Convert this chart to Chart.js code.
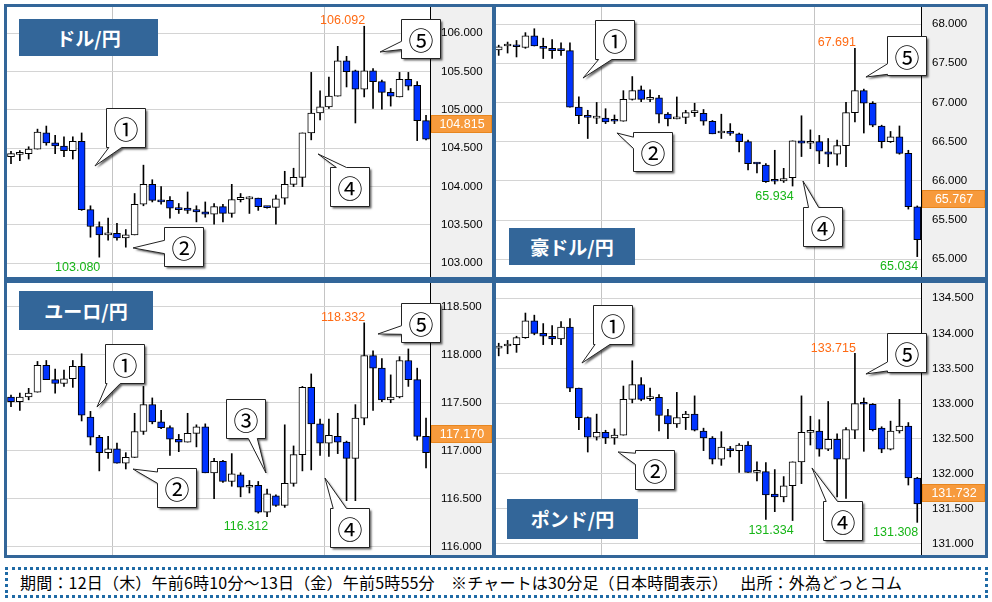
<!DOCTYPE html>
<html lang="ja">
<head>
<meta charset="UTF-8">
<title>為替チャート 30分足</title>
<script src="https://cdn.jsdelivr.net/npm/chart.js"></script>
<style>
  body { margin: 0; width: 992px; height: 602px; background: #fff; font-family: 'Noto Sans CJK JP', sans-serif; position: relative; overflow: hidden; }
  .panel { position: absolute; border: 3px solid #336699; box-sizing: border-box; background: #fff; overflow: hidden; }
  .panel canvas { position: absolute; left: 0; top: 0; }
  .title { position: absolute; background: #336699; color: #fff; font-size: 19px; font-weight: bold; text-align: center; z-index: 2; }
  .footer { position: absolute; left: 5px; top: 567px; width: 983px; height: 31px; box-sizing: border-box; border: 3px dotted #1f6aa5; font-size: 16px; line-height: 25px; padding-left: 12px; color: #000; white-space: nowrap; letter-spacing: 0.2px; }
</style>
</head>
<body>

<div class="panel" style="left:4px;top:4px;width:491px;height:276px">
  <canvas id="cUsd" width="485" height="270"></canvas>
  <div class="title" style="left:12px;top:12px;width:139px;height:37px;line-height:37px">ドル/円</div>
</div>
<div class="panel" style="left:493px;top:4px;width:495px;height:276px">
  <canvas id="cAud" width="489" height="270"></canvas>
  <div class="title" style="left:13px;top:221px;width:126px;height:37px;line-height:37px">豪ドル/円</div>
</div>
<div class="panel" style="left:4px;top:280px;width:491px;height:278px">
  <canvas id="cEur" width="485" height="272"></canvas>
  <div class="title" style="left:12px;top:8px;width:134px;height:39px;line-height:39px">ユーロ/円</div>
</div>
<div class="panel" style="left:493px;top:280px;width:495px;height:278px">
  <canvas id="cGbp" width="489" height="272"></canvas>
  <div class="title" style="left:11px;top:216px;width:131px;height:40px;line-height:40px">ポンド/円</div>
</div>

<div class="footer">期間：12日（木）午前6時10分～13日（金）午前5時55分　※チャートは30分足（日本時間表示）　 出所：外為どっとコム</div>

<script>
  // ドル/円 (30分足 48本)
  const usdOpen  = [104.39,104.42,104.43,104.49,104.70,104.57,104.53,104.47,104.59,103.70,103.48,103.37,103.39,103.33,103.37,103.77,104.03,103.82,103.82,103.72,103.72,103.70,103.67,103.64,103.74,103.65,103.83,103.84,103.85,103.73,103.73,103.85,104.03,104.12,104.70,104.96,105.04,105.18,105.64,105.51,105.27,105.51,105.37,105.23,105.17,105.40,105.32,104.86];
  const usdHigh  = [104.46,104.47,104.52,104.75,104.79,104.67,104.65,104.65,104.70,103.75,103.54,103.59,103.52,103.44,103.91,104.28,104.09,104.00,103.87,103.78,103.93,103.75,103.80,103.78,103.77,104.03,103.91,103.87,103.85,103.74,103.89,104.20,104.24,104.70,105.49,105.25,105.43,105.83,105.70,105.52,106.092,105.54,105.39,105.28,105.49,105.49,105.37,104.93];
  const usdLow   = [104.30,104.34,104.36,104.49,104.54,104.43,104.39,104.36,103.69,103.34,103.080,103.30,103.30,103.21,103.37,103.75,103.80,103.77,103.59,103.65,103.65,103.54,103.60,103.51,103.54,103.60,103.80,103.65,103.69,103.72,103.51,103.77,104.00,104.00,104.61,104.87,105.02,105.18,105.30,104.83,105.17,105.02,105.01,105.05,105.17,105.26,104.60,104.61];
  const usdClose = [104.43,104.425,104.49,104.71,104.57,104.53,104.47,104.59,103.70,103.48,103.37,103.39,103.33,103.37,103.77,104.03,103.82,103.80,103.72,103.70,103.69,103.67,103.64,103.74,103.65,103.83,103.86,103.845,103.74,103.725,103.84,104.03,104.12,104.70,104.96,105.04,105.18,105.64,105.50,105.27,105.51,105.37,105.23,105.18,105.40,105.31,104.86,104.62];
  const usdTicks = [103.0,103.5,104.0,104.5,105.0,105.5,106.0];

  // 豪ドル/円
  const audOpen  = [67.67,67.72,67.72,67.70,67.85,67.71,67.69,67.665,67.66,66.94,66.82,66.80,66.80,66.765,66.76,67.04,67.16,67.04,67.06,66.85,66.79,66.81,66.87,66.86,66.76,66.61,66.61,66.60,66.50,66.22,66.20,66.00,66.00,66.04,66.51,66.48,66.50,66.37,66.34,66.45,66.87,67.15,66.99,66.70,66.50,66.56,66.35,65.67];
  const audHigh  = [67.73,67.77,67.79,67.89,67.94,67.82,67.80,67.76,67.76,67.07,66.90,67.00,66.92,66.84,67.15,67.33,67.21,67.16,67.09,66.87,67.07,66.90,66.99,66.91,66.77,66.85,66.73,66.61,66.52,66.23,66.22,66.39,66.16,66.51,66.83,66.65,66.58,66.54,66.52,67.00,67.691,67.17,67.01,66.71,66.63,66.70,66.39,65.68];
  const audLow   = [67.60,67.63,67.58,67.69,67.72,67.56,67.56,67.60,66.94,66.73,66.54,66.73,66.73,66.73,66.76,67.03,67.01,67.01,66.74,66.70,66.79,66.73,66.82,66.71,66.60,66.54,66.58,66.37,66.14,66.10,65.98,65.96,65.98,65.934,66.31,66.41,66.22,66.18,66.20,66.18,66.75,66.61,66.69,66.42,66.49,66.34,65.64,65.034];
  const audClose = [67.71,67.73,67.71,67.85,67.72,67.69,67.66,67.66,66.94,66.83,66.81,66.805,66.75,66.76,67.04,67.15,67.04,67.06,66.85,66.79,66.81,66.87,66.875,66.76,66.60,66.615,66.605,66.50,66.22,66.215,65.99,65.995,66.03,66.51,66.48,66.50,66.38,66.34,66.45,66.87,67.15,66.99,66.71,66.50,66.56,66.35,65.67,65.25];
  const audTicks = [65.0,65.5,66.0,66.5,67.0,67.5,68.0];

  // ユーロ/円
  const eurOpen  = [117.56,117.51,117.56,117.61,117.89,117.74,117.70,117.75,117.88,117.35,117.14,116.98,117.02,116.87,116.93,117.20,117.48,117.30,117.24,117.12,117.09,117.18,117.25,116.77,116.89,116.68,116.75,116.62,116.64,116.36,116.53,116.43,116.66,116.96,117.66,117.28,117.08,117.15,117.09,116.92,117.34,117.99,117.86,117.53,117.56,117.94,117.74,117.15];
  const eurHigh  = [117.58,117.60,117.65,117.93,117.94,117.85,117.84,117.94,118.01,117.41,117.16,117.15,117.08,116.98,117.39,117.67,117.55,117.42,117.26,117.17,117.39,117.27,117.28,116.92,116.90,116.97,116.77,116.69,116.68,116.60,116.54,117.27,117.05,117.67,117.80,117.33,117.33,117.39,117.10,117.48,118.332,118.04,117.96,117.79,117.98,118.06,117.86,117.34];
  const eurLow   = [117.46,117.42,117.53,117.61,117.74,117.60,117.67,117.66,117.31,117.06,116.79,116.92,116.87,116.81,116.93,117.17,117.28,117.23,116.95,116.99,117.09,117.04,116.77,116.50,116.67,116.63,116.52,116.56,116.35,116.312,116.42,116.41,116.63,116.79,116.80,116.95,116.94,116.97,116.48,116.48,117.27,117.42,117.51,117.50,117.55,117.67,117.11,116.82];
  const eurClose = [117.51,117.56,117.60,117.89,117.74,117.70,117.75,117.88,117.37,117.14,116.98,117.02,116.87,116.93,117.20,117.48,117.30,117.24,117.12,117.09,117.18,117.25,116.77,116.89,116.68,116.76,116.62,116.64,116.36,116.55,116.43,116.66,116.96,117.66,117.28,117.08,117.16,117.09,116.92,117.34,117.99,117.86,117.53,117.56,117.94,117.74,117.15,116.98];
  const eurTicks = [116.0,116.5,117.0,117.5,118.0,118.5];

  // ポンド/円
  const gbpOpen  = [133.79,133.82,133.84,133.94,134.18,134.00,133.96,133.92,134.09,133.22,132.80,132.52,132.59,132.51,132.55,133.06,133.27,133.07,133.09,132.83,132.71,132.80,132.85,132.61,132.51,132.21,132.36,132.33,132.41,132.02,132.03,131.71,131.67,131.83,132.17,132.59,132.61,132.35,132.49,132.21,132.62,133.00,132.99,132.65,132.35,132.61,132.68,131.94];
  const gbpHigh  = [133.86,133.90,133.96,134.29,134.26,134.14,134.11,134.17,134.21,133.22,132.81,132.85,132.62,132.64,133.25,133.61,133.37,133.22,133.13,132.92,133.16,132.89,133.11,132.65,132.53,132.60,132.39,132.43,132.46,132.17,132.16,132.06,131.96,132.17,133.11,132.82,132.77,133.03,132.57,132.66,133.715,133.08,133.00,132.67,132.75,133.06,132.73,131.95];
  const gbpLow   = [133.68,133.71,133.73,133.93,133.98,133.84,133.84,133.84,133.17,132.63,132.31,132.48,132.43,132.42,132.55,133.01,133.04,133.04,132.61,132.50,132.66,132.63,132.61,132.33,132.14,132.12,132.24,132.02,132.02,131.90,131.35,131.46,131.60,131.334,131.86,132.41,132.25,132.33,131.67,131.65,132.50,132.32,132.61,132.30,132.34,132.58,131.84,131.308];
  const gbpClose = [133.82,133.84,133.94,134.18,134.00,133.96,133.92,134.09,133.22,132.80,132.52,132.59,132.51,132.55,133.06,133.27,133.06,133.09,132.83,132.71,132.80,132.85,132.62,132.51,132.21,132.38,132.33,132.41,132.02,132.05,131.70,131.67,131.83,132.17,132.59,132.61,132.35,132.49,132.21,132.63,133.00,132.99,132.63,132.35,132.61,132.68,131.94,131.57];
  const gbpTicks = [131.0,131.5,132.0,132.5,133.0,133.5,134.0,134.5];

  // 現在値 (オレンジのラベル)
  const lastRates = [104.815, 65.767, 117.170, 131.732];
  // 12:00 と 24:00 の縦線（足の番号）
  const timeLines = [11.5, 35.5];

  const axisFont = "'Liberation Sans Narrow', 'Liberation Sans', sans-serif";
  const upColor = '#ffffff';
  const downColor = '#0033ff';

  function drawCallout(ctx, xs, ys, co) {
    const w = 39, hh = 39;
    const cx = xs.getPixelForValue(co.x), cy = ys.getPixelForValue(co.y);
    const tx = xs.getPixelForValue(co.tx), ty = ys.getPixelForValue(co.ty);
    const x0 = Math.round(cx - w / 2) + 0.5, y0 = Math.round(cy - hh / 2) + 0.5;
    const x1 = x0 + w, y1 = y0 + hh;
    const [f1, f2] = co.f;
    const pts = [[x0, y0]];
    if (co.side === 'top') pts.push([x0 + f1 * w, y0], [tx, ty], [x0 + f2 * w, y0]);
    pts.push([x1, y0], [x1, y1]);
    if (co.side === 'bottom') pts.push([x0 + f2 * w, y1], [tx, ty], [x0 + f1 * w, y1]);
    pts.push([x0, y1]);
    if (co.side === 'left') pts.push([x0, y0 + f2 * hh], [tx, ty], [x0, y0 + f1 * hh]);
    ctx.beginPath();
    pts.forEach((p, i) => i ? ctx.lineTo(p[0], p[1]) : ctx.moveTo(p[0], p[1]));
    ctx.closePath();
    ctx.save();
    ctx.shadowColor = 'rgba(0,0,0,0.6)';
    ctx.shadowOffsetX = 2;
    ctx.shadowOffsetY = 2;
    ctx.shadowBlur = 2;
    ctx.fillStyle = '#fff';
    ctx.fill();
    ctx.restore();
    ctx.strokeStyle = '#222';
    ctx.lineWidth = 1;
    ctx.stroke();
    ctx.fillStyle = '#000';
    ctx.font = "25px 'Noto Sans CJK JP', sans-serif";
    ctx.textAlign = 'center';
    ctx.textBaseline = 'middle';
    ctx.fillText(co.n, x0 + w / 2, y0 + hh / 2 + 1);
  }

  function makeDeco(high, low, last, marks, callouts) {
    return {
      id: 'deco',
      beforeDraw(chart) {
        const { ctx, chartArea, width, height } = chart;
        ctx.save();
        ctx.fillStyle = '#fff';
        ctx.fillRect(0, 0, width, height);
        ctx.fillStyle = '#f0f0f0';
        ctx.fillRect(chartArea.right, 0, width - chartArea.right, height);
        ctx.restore();
      },
      afterDraw(chart) {
        const { ctx, chartArea, width } = chart;
        const xs = chart.scales.x, ys = chart.scales.y;
        ctx.save();
        // 高値・安値
        ctx.font = "12.5px 'Liberation Sans', sans-serif";
        ctx.textAlign = 'right';
        marks.forEach(m => {
          const x = xs.getPixelForValue(m.i) + 1;
          if (m.type === 'high') {
            ctx.fillStyle = '#ff6a13';
            ctx.textBaseline = 'bottom';
            ctx.fillText(high[m.i].toFixed(3), x, ys.getPixelForValue(high[m.i]) + 1);
          } else {
            ctx.fillStyle = '#17b517';
            ctx.textBaseline = 'top';
            ctx.fillText(low[m.i].toFixed(3), x, ys.getPixelForValue(low[m.i]) + 4);
          }
        });
        // 現在値ラベル
        const py = Math.round(ys.getPixelForValue(last));
        ctx.fillStyle = '#f79a3c';
        ctx.fillRect(chartArea.right + 1, py - 9, width - chartArea.right - 1, 18);
        ctx.strokeStyle = '#e7861f';
        ctx.strokeRect(chartArea.right + 1.5, py - 8.5, width - chartArea.right - 2, 17);
        ctx.fillStyle = '#fff';
        ctx.font = '12.5px ' + axisFont;
        ctx.textAlign = 'center';
        ctx.textBaseline = 'middle';
        ctx.fillText(last.toFixed(3), (chartArea.right + width) / 2 + 1, py + 1);
        // 吹き出し
        callouts.forEach(co => drawCallout(ctx, xs, ys, co));
        ctx.restore();
      }
    };
  }

  function makeChart(id, open, high, low, close, ticks, yMin, yMax, xMin, xMax, axisW, last, marks, callouts) {
    const body = open.map((o, i) => ({ x: i, y: [o, close[i]] }));
    const wick = low.map((l, i) => ({ x: i, y: [l, high[i]] }));
    return new Chart(document.getElementById(id), {
      type: 'bar',
      data: {
        datasets: [
          {
            label: 'body',
            data: body,
            backgroundColor: open.map((o, i) => close[i] >= o ? upColor : downColor),
            borderColor: '#000',
            borderWidth: 1,
            borderSkipped: false,
            barThickness: 7,
            minBarLength: 2,
            grouped: false
          },
          {
            label: 'wick',
            data: wick,
            backgroundColor: '#000',
            borderWidth: 0,
            barThickness: 1,
            grouped: false
          }
        ]
      },
      options: {
        responsive: false,
        animation: false,
        layout: { padding: 0 },
        plugins: { legend: { display: false }, tooltip: { enabled: false } },
        scales: {
          x: {
            type: 'linear',
            offset: false,
            min: xMin,
            max: xMax,
            afterBuildTicks(scale) { scale.ticks = timeLines.map(v => ({ value: v })); },
            ticks: { display: false },
            grid: { color: '#c4c4c4', drawTicks: false, offset: false },
            border: { display: false },
            afterFit(scale) { scale.height = 0; }
          },
          y: {
            position: 'right',
            min: yMin,
            max: yMax,
            afterBuildTicks(scale) { scale.ticks = ticks.map(v => ({ value: v })); },
            ticks: {
              callback: v => Number(v).toFixed(3),
              color: '#000',
              font: { family: axisFont, size: 11.5 },
              crossAlign: 'center',
              padding: 11
            },
            grid: { color: '#d4d4d4', drawTicks: false },
            border: { display: true, color: '#000', width: 1 },
            afterFit(scale) { scale.width = axisW; scale.paddingTop = 0; scale.paddingBottom = 0; }
          }
        }
      },
      plugins: [makeDeco(high, low, last, marks, callouts)]
    });
  }

  makeChart('cUsd', usdOpen, usdHigh, usdLow, usdClose, usdTicks, 102.821, 106.343, -0.453, 47.45, 62, lastRates[0],
    [{ i: 40, type: 'high' }, { i: 10, type: 'low' }],
    [
      { n: '①', x: 13.02, y: 104.765, tx: 9.51, ty: 104.269, side: 'bottom', f: [0.06, 0.39] },
      { n: '②', x: 19.54, y: 103.213, tx: 13.82, ty: 103.200, side: 'left', f: [0.33, 0.67] },
      { n: '④', x: 38.39, y: 104.008, tx: 34.77, ty: 104.426, side: 'top', f: [0.15, 0.41] },
      { n: '⑤', x: 46.38, y: 105.926, tx: 41.79, ty: 105.756, side: 'left', f: [0.56, 0.77] }
    ]);

  makeChart('cAud', audOpen, audHigh, audLow, audClose, audTicks, 64.774, 68.217, -0.303, 47.42, 64, lastRates[1],
    [{ i: 40, type: 'high' }, { i: 33, type: 'low' }, { i: 47, type: 'low' }],
    [
      { n: '①', x: 13.0, y: 67.802, tx: 9.47, ty: 67.311, side: 'bottom', f: [0.08, 0.42] },
      { n: '②', x: 17.27, y: 66.368, tx: 13.28, ty: 66.610, side: 'left', f: [0.12, 0.41] },
      { n: '④', x: 36.36, y: 65.424, tx: 34.17, ty: 65.998, side: 'top', f: [0.13, 0.39] },
      { n: '⑤', x: 45.79, y: 67.598, tx: 41.24, ty: 67.324, side: 'left', f: [0.70, 0.97] }
    ]);

  makeChart('cEur', eurOpen, eurHigh, eurLow, eurClose, eurTicks, 115.914, 118.747, -0.453, 47.45, 62, lastRates[2],
    [{ i: 40, type: 'high' }, { i: 29, type: 'low' }],
    [
      { n: '①', x: 12.85, y: 117.908, tx: 9.74, ty: 117.455, side: 'bottom', f: [0.04, 0.38] },
      { n: '②', x: 18.74, y: 116.617, tx: 13.82, ty: 116.809, side: 'left', f: [0.09, 0.38] },
      { n: '③', x: 26.5, y: 117.335, tx: 28.88, ty: 116.768, side: 'bottom', f: [0.56, 0.79] },
      { n: '④', x: 38.39, y: 116.2, tx: 35.56, ty: 116.716, side: 'top', f: [0.07, 0.41] },
      { n: '⑤', x: 46.43, y: 118.335, tx: 41.56, ty: 118.216, side: 'left', f: [0.57, 0.79] }
    ]);

  makeChart('cGbp', gbpOpen, gbpHigh, gbpLow, gbpClose, gbpTicks, 130.843, 134.718, -0.303, 47.42, 64, lastRates[3],
    [{ i: 40, type: 'high' }, { i: 33, type: 'low' }, { i: 47, type: 'low' }],
    [
      { n: '①', x: 12.83, y: 134.12, tx: 9.35, ty: 133.578, side: 'bottom', f: [0.04, 0.42] },
      { n: '②', x: 17.49, y: 132.068, tx: 13.40, ty: 132.311, side: 'left', f: [0.07, 0.36] },
      { n: '④', x: 38.55, y: 131.335, tx: 35.18, ty: 132.083, side: 'top', f: [0.07, 0.36] },
      { n: '⑤', x: 45.79, y: 133.728, tx: 41.24, ty: 133.422, side: 'left', f: [0.73, 0.96] }
    ]);
</script>
</body>
</html>
